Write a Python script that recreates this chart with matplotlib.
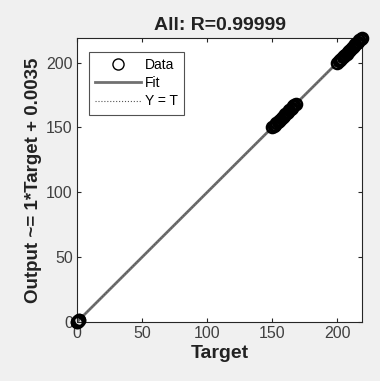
import matplotlib
matplotlib.use("Agg")
import matplotlib.pyplot as plt
import numpy as np

plt.rcParams['font.family'] = ['Liberation Sans', 'DejaVu Sans']

targets = [0.0, 0.3, 0.6, 0.9, 1.2, 1.5,
           150.2, 151.0, 152.1, 153.0, 154.2, 155.1, 156.0, 157.3, 158.1,
           159.0, 160.2, 161.1, 162.0, 163.2, 164.1, 165.0, 166.2, 167.1, 168.0,
           200.1, 201.2, 202.0, 203.1, 204.3, 205.0, 206.2, 207.1, 208.0,
           209.2, 210.1, 211.0, 212.3, 213.1, 214.0, 215.2, 216.1, 217.0, 218.2, 219.0]
outputs = [0.0, 0.3, 0.6, 0.9, 1.2, 1.5,
           150.3, 151.0, 152.0, 153.1, 154.2, 155.0, 156.1, 157.2, 158.1,
           159.1, 160.2, 161.0, 162.1, 163.2, 164.0, 165.1, 166.2, 167.0, 168.1,
           200.1, 201.1, 202.1, 203.0, 204.2, 205.1, 206.2, 207.0, 208.1,
           209.2, 210.0, 211.1, 212.3, 213.0, 214.1, 215.2, 216.0, 217.1, 218.1, 219.0]
fit_slope = 1.0
fit_intercept = 0.0035
title = "All: R=0.99999"
x_ticks = [0, 50, 100, 150, 200]
y_ticks = [0, 50, 100, 150, 200]
axis_max = 219

fig = plt.figure(figsize=(3.80, 3.81), dpi=100)
fig.patch.set_facecolor('#f0f0f0')
ax = fig.add_axes([77/380, 59/381, 285/380, 284/381])
ax.set_facecolor('white')

xs = np.array([0, axis_max])
ax.plot(xs, fit_slope*xs + fit_intercept, color='#707070', lw=2.0, label='Fit', zorder=2)
ax.plot(xs, xs, color='#555555', lw=0.8, ls=':', label='Y = T', zorder=2)
ax.plot(targets, outputs, 'o', mfc='none', mec='black', mew=1.8, ms=8, label='Data',
        zorder=3, clip_on=False)

ax.set_xlim(0, axis_max)
ax.set_ylim(0, axis_max)
ax.set_xticks(x_ticks)
ax.set_yticks(y_ticks)
ax.tick_params(direction='in', length=3, width=0.8, colors='#262626', labelsize=11.5,
               labelcolor='#404040', top=True, right=True, labeltop=False, labelright=False, pad=3)
for s in ax.spines.values():
    s.set_color('#262626')
    s.set_linewidth(0.8)

ax.set_title(title, fontsize=14, fontweight='bold', color='#222222', pad=6)
ax.set_xlabel('Target', fontsize=14, fontweight='bold', color='#222222', labelpad=3)
ax.set_ylabel('Output ~= 1*Target + 0.0035', fontsize=13.5, fontweight='bold', color='#222222', labelpad=3)

handles, labels = ax.get_legend_handles_labels()
order = [2, 0, 1]
leg = ax.legend([handles[i] for i in order], [labels[i] for i in order],
                loc='upper left', bbox_to_anchor=(0.042, 0.951), borderaxespad=0,
                fontsize=10, frameon=True, fancybox=False, edgecolor='#262626',
                handlelength=3.3, borderpad=0.45, labelspacing=0.3, handletextpad=0.3)
leg.get_frame().set_linewidth(0.8)
for lh in leg.legend_handles:
    if lh.get_marker() == 'o':
        lh.set_markeredgewidth(1.0)

fig.savefig('out.png', dpi=100, facecolor=fig.get_facecolor())
